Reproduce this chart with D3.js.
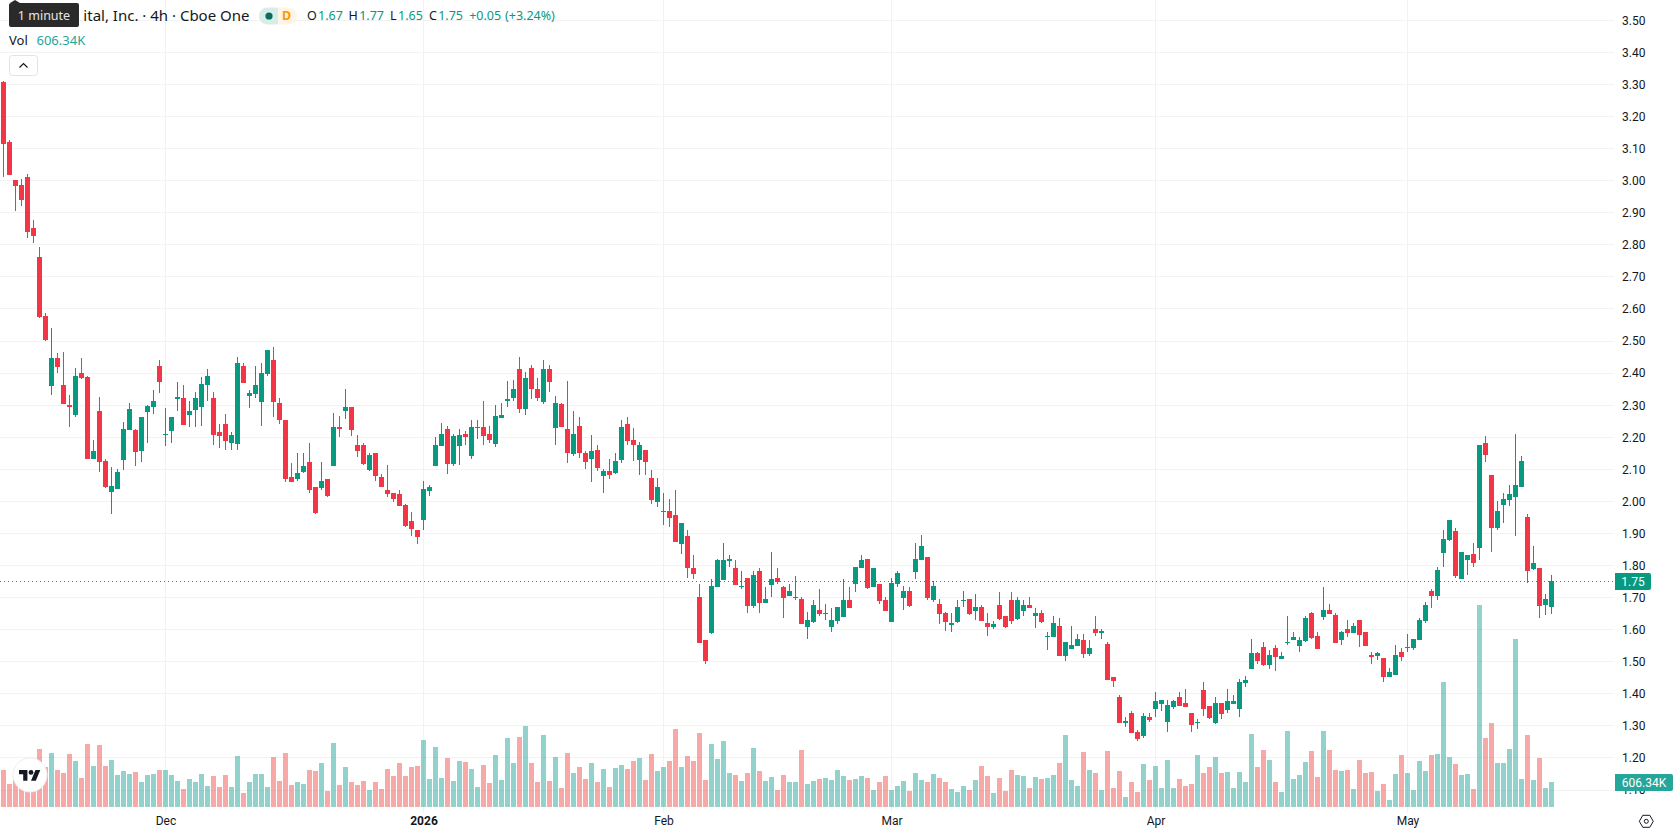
<!DOCTYPE html>
<html>
<head>
<meta charset="utf-8">
<style>
  html, body { margin: 0; padding: 0; background: #fff; }
  svg { display: block; }
  text { font-family: "Noto Sans", Roboto, sans-serif; }
</style>
<script src="https://cdn.jsdelivr.net/npm/d3@7"></script>
</head>
<body>
<svg id="chart" width="1678" height="835"></svg>
<script>
// Four-hour bars, oldest first.
const opens = [
3.308,3.121,3.002,2.986,3.011,2.852,2.762,2.578,2.359,2.447,
2.362,2.300,2.269,2.400,2.387,2.132,2.281,2.125,2.029,2.038,
2.128,2.222,2.222,2.156,2.278,2.294,2.422,2.206,2.219,2.319,
2.322,2.269,2.284,2.294,2.362,2.322,2.216,2.241,2.181,2.178,
2.422,2.328,2.334,2.309,2.397,2.440,2.306,2.252,2.077,2.071,
2.090,2.124,2.043,2.040,2.068,2.109,2.233,2.280,2.293,2.174,
2.174,2.099,2.149,2.077,2.034,2.027,2.024,1.987,1.937,1.912,
1.943,2.031,2.109,2.171,2.224,2.115,2.171,2.211,2.140,2.230,
2.233,2.211,2.180,2.261,2.314,2.321,2.414,2.289,2.417,2.349,
2.311,2.414,2.230,2.302,2.224,2.146,2.236,2.152,2.133,2.161,
2.080,2.093,2.089,2.130,2.242,2.192,2.130,2.161,2.074,1.999,
1.968,1.971,1.958,1.868,1.893,1.793,1.703,1.568,1.590,1.734,
1.756,1.815,1.793,1.734,1.762,1.675,1.784,1.684,1.740,1.762,
1.734,1.706,1.699,1.696,1.609,1.625,1.662,1.650,1.609,1.628,
1.640,1.693,1.743,1.792,1.820,1.733,1.742,1.693,1.624,1.742,
1.699,1.721,1.780,1.817,1.827,1.692,1.680,1.652,1.615,1.624,
1.689,1.696,1.658,1.671,1.621,1.608,1.677,1.643,1.692,1.633,
1.658,1.677,1.643,1.652,1.577,1.577,1.611,1.518,1.540,1.549,
1.568,1.524,1.602,1.590,1.555,1.452,1.390,1.309,1.340,1.281,
1.268,1.327,1.352,1.368,1.312,1.359,1.390,1.371,1.340,1.309,
1.412,1.362,1.309,1.371,1.349,1.368,1.352,1.433,1.477,1.527,
1.546,1.490,1.543,1.508,1.558,1.568,1.549,1.565,1.652,1.580,
1.639,1.661,1.646,1.568,1.602,1.589,1.630,1.593,1.521,1.518,
1.511,1.452,1.458,1.530,1.543,1.543,1.568,1.628,1.721,1.706,
1.840,1.880,1.908,1.759,1.818,1.836,1.855,2.183,2.083,1.918,
1.989,2.005,2.014,2.046,1.952,1.790,1.793,1.677,1.67];

const highs = [
3.311,3.127,3.002,3.005,3.021,2.877,2.793,2.587,2.540,2.462,
2.465,2.331,2.415,2.447,2.391,2.191,2.325,2.132,2.107,2.100,
2.247,2.306,2.225,2.263,2.300,2.347,2.440,2.291,2.263,2.372,
2.362,2.313,2.341,2.387,2.412,2.341,2.241,2.272,2.216,2.450,
2.431,2.347,2.422,2.431,2.472,2.481,2.322,2.252,2.118,2.152,
2.152,2.183,2.043,2.124,2.068,2.274,2.265,2.349,2.293,2.208,
2.183,2.152,2.149,2.084,2.112,2.027,2.034,1.993,1.968,1.912,
2.062,2.052,2.199,2.243,2.236,2.211,2.224,2.218,2.252,2.252,
2.314,2.236,2.299,2.308,2.374,2.377,2.449,2.402,2.424,2.383,
2.439,2.424,2.327,2.308,2.374,2.283,2.264,2.158,2.208,2.174,
2.102,2.133,2.152,2.252,2.264,2.227,2.186,2.161,2.099,2.074,
2.027,2.008,2.036,1.933,1.912,1.834,1.743,1.568,1.759,1.821,
1.871,1.834,1.818,1.784,1.762,1.784,1.793,1.734,1.843,1.793,
1.737,1.743,1.768,1.703,1.656,1.693,1.728,1.681,1.668,1.671,
1.759,1.734,1.796,1.833,1.820,1.792,1.742,1.702,1.761,1.783,
1.736,1.733,1.870,1.895,1.827,1.752,1.696,1.655,1.652,1.692,
1.721,1.696,1.711,1.677,1.652,1.627,1.717,1.643,1.717,1.702,
1.692,1.702,1.668,1.661,1.593,1.643,1.636,1.561,1.611,1.586,
1.586,1.568,1.643,1.602,1.561,1.452,1.396,1.327,1.346,1.287,
1.340,1.340,1.405,1.380,1.380,1.380,1.405,1.415,1.340,1.321,
1.437,1.362,1.390,1.371,1.415,1.396,1.446,1.455,1.571,1.530,
1.561,1.536,1.552,1.530,1.643,1.593,1.577,1.643,1.655,1.593,
1.733,1.680,1.652,1.596,1.630,1.621,1.630,1.593,1.530,1.530,
1.511,1.480,1.552,1.543,1.586,1.571,1.636,1.687,1.727,1.796,
1.911,1.943,1.918,1.843,1.833,1.871,2.177,2.202,2.083,2.002,
2.027,2.052,2.211,2.142,1.961,1.862,1.793,1.712,1.77];

const lows = [
3.012,3.018,2.905,2.921,2.821,2.805,2.571,2.500,2.331,2.400,
2.303,2.231,2.263,2.381,2.132,2.132,2.091,2.041,1.960,2.038,
2.097,2.222,2.110,2.122,2.181,2.272,2.337,2.172,2.181,2.281,
2.238,2.231,2.231,2.234,2.313,2.175,2.166,2.160,2.160,2.160,
2.369,2.291,2.322,2.234,2.391,2.263,2.241,2.059,2.059,2.062,
2.087,2.027,1.959,2.034,2.012,2.109,2.199,2.258,2.202,2.137,
2.112,2.093,2.062,2.043,2.012,1.999,1.984,1.921,1.893,1.868,
1.909,2.018,2.109,2.171,2.084,2.109,2.112,2.174,2.133,2.193,
2.174,2.183,2.168,2.261,2.293,2.314,2.274,2.268,2.318,2.314,
2.302,2.342,2.177,2.233,2.118,2.142,2.136,2.102,2.061,2.093,
2.027,2.068,2.086,2.118,2.177,2.127,2.083,2.083,1.993,1.983,
1.927,1.921,1.874,1.837,1.762,1.759,1.559,1.494,1.587,1.734,
1.753,1.796,1.740,1.728,1.653,1.668,1.653,1.684,1.703,1.743,
1.637,1.706,1.693,1.618,1.572,1.621,1.643,1.631,1.593,1.618,
1.640,1.668,1.718,1.792,1.727,1.733,1.680,1.658,1.624,1.733,
1.661,1.671,1.758,1.817,1.692,1.686,1.618,1.596,1.593,1.621,
1.671,1.646,1.630,1.627,1.580,1.602,1.630,1.605,1.618,1.630,
1.643,1.668,1.605,1.621,1.537,1.577,1.518,1.502,1.540,1.549,
1.511,1.518,1.580,1.571,1.443,1.421,1.309,1.296,1.278,1.253,
1.262,1.312,1.327,1.346,1.281,1.352,1.362,1.359,1.281,1.290,
1.331,1.321,1.306,1.321,1.340,1.368,1.327,1.421,1.477,1.493,
1.487,1.477,1.471,1.508,1.552,1.568,1.530,1.561,1.571,1.540,
1.630,1.649,1.558,1.552,1.577,1.589,1.546,1.549,1.493,1.505,
1.437,1.452,1.458,1.502,1.530,1.536,1.568,1.621,1.668,1.693,
1.796,1.877,1.762,1.759,1.771,1.796,1.818,2.124,1.843,1.911,
1.933,1.986,1.893,2.046,1.746,1.787,1.637,1.646,1.65];

const closes = [
3.114,3.018,2.983,2.940,2.840,2.827,2.575,2.503,2.447,2.419,
2.303,2.294,2.391,2.384,2.132,2.156,2.122,2.044,2.047,2.091,
2.225,2.288,2.153,2.263,2.297,2.313,2.372,2.210,2.263,2.325,
2.238,2.281,2.322,2.366,2.391,2.206,2.203,2.188,2.206,2.431,
2.369,2.337,2.362,2.400,2.472,2.309,2.253,2.071,2.059,2.087,
2.109,2.034,1.965,2.062,2.015,2.233,2.224,2.293,2.221,2.158,
2.115,2.143,2.080,2.046,2.024,2.006,1.984,1.924,1.915,1.890,
2.037,2.043,2.174,2.211,2.115,2.202,2.208,2.199,2.233,2.233,
2.205,2.190,2.265,2.268,2.318,2.349,2.289,2.383,2.349,2.321,
2.414,2.371,2.308,2.233,2.149,2.211,2.149,2.121,2.158,2.105,
2.093,2.083,2.127,2.233,2.189,2.174,2.174,2.121,2.005,2.043,
1.971,1.949,1.874,1.933,1.793,1.774,1.559,1.503,1.737,1.818,
1.818,1.821,1.740,1.737,1.675,1.771,1.684,1.696,1.759,1.749,
1.699,1.721,1.703,1.618,1.631,1.678,1.650,1.653,1.631,1.671,
1.693,1.668,1.796,1.817,1.730,1.792,1.689,1.658,1.746,1.777,
1.721,1.674,1.820,1.861,1.699,1.736,1.649,1.624,1.621,1.671,
1.692,1.649,1.671,1.627,1.608,1.618,1.633,1.608,1.627,1.692,
1.677,1.668,1.652,1.624,1.580,1.621,1.518,1.561,1.552,1.571,
1.524,1.543,1.590,1.596,1.443,1.440,1.309,1.315,1.278,1.259,
1.331,1.318,1.377,1.380,1.365,1.377,1.362,1.359,1.302,1.312,
1.352,1.324,1.371,1.337,1.377,1.377,1.437,1.443,1.527,1.502,
1.490,1.521,1.515,1.518,1.561,1.577,1.568,1.636,1.574,1.540,
1.661,1.649,1.558,1.593,1.589,1.611,1.583,1.549,1.515,1.527,
1.452,1.468,1.521,1.515,1.546,1.571,1.630,1.677,1.706,1.787,
1.883,1.943,1.768,1.843,1.833,1.808,2.174,2.145,1.918,1.971,
2.008,2.024,2.052,2.127,1.783,1.808,1.674,1.696,1.75];

// Traded volume per bar, in thousands of shares.
const volumes = [
897,558,655,849,970,1019,1407,970,1310,897,
825,1285,1116,703,1528,994,1504,994,1140,776,
873,800,849,606,776,800,897,897,776,631,
437,679,606,800,509,752,485,776,485,1237,
340,606,800,800,485,1213,631,1310,534,606,
558,897,873,1067,388,1552,534,970,606,534,
631,412,606,437,922,752,1067,752,970,994,
1625,679,1455,703,1188,631,1116,1091,922,485,
1019,582,1261,655,1673,1067,1698,1964,1067,606,
1746,631,1213,461,1310,825,970,679,1067,606,
922,485,946,1019,922,1116,1188,655,1285,873,
970,1116,1892,970,1237,1116,1795,655,1528,1164,
1601,825,776,631,825,1431,873,631,728,412,
776,606,606,1382,558,631,679,703,655,897,
752,655,679,752,703,412,606,752,412,509,
631,388,825,655,606,800,703,606,437,364,
509,412,655,994,752,340,703,388,897,776,
752,461,728,679,703,776,1067,1746,655,509,
1334,897,825,412,1358,461,873,243,606,364,
1043,655,994,461,1140,461,679,509,558,1261,
825,970,1213,825,849,461,849,606,1770,970,
1382,1140,606,364,1843,679,776,1091,1358,728,
1843,1382,897,873,897,437,1140,825,849,388,
558,170,800,1261,825,412,1116,873,1261,1285,
3031,1213,1043,776,800,437,4899,1673,2037,1067,
1067,1407,4074,679,1746,655,1188,461,606.34];

const priceTicks = ["3.50","3.40","3.30","3.20","3.10","3.00","2.90","2.80","2.70","2.60","2.50","2.40","2.30","2.20","2.10","2.00","1.90","1.80","1.70","1.60","1.50","1.40","1.30","1.20","1.10"];
const monthBars = [27,70,110,148,192,234];
const monthLabels = ["Dec","2026","Feb","Mar","Apr","May"];
const lastPrice = 1.75;
const lastVolume = 606.34;

const UP = "#089981", DOWN = "#F23645";
const VOL_UP = "#26a69a", VOL_DOWN = "#ef5350";
const GRID = "#f2f2f2", INK = "#131722";
const PANE_RIGHT = 1614, PANE_BOTTOM = 813;

const x = d3.scaleLinear().domain([0, opens.length - 1]).range([3.5, 1551.5]);
const y = d3.scaleLinear().domain([3.3, 1.1]).range([84.47, 790.01]);
const v = d3.scaleLinear().domain([0, lastVolume]).range([807, 782]);

const snap = val => Math.round(val - 0.1);
const rowOf = p => Math.floor(y(p)) + 0.5;

const bars = opens.map((o, i) => ({ i, o, h: highs[i], l: lows[i], c: closes[i], vol: volumes[i], up: closes[i] >= o }));

const svg = d3.select("#chart");

// Grid
const grid = svg.append("g").attr("shape-rendering", "crispEdges");
grid.selectAll("line.h").data(priceTicks).join("line").attr("class", "h")
  .attr("x1", 0).attr("x2", PANE_RIGHT)
  .attr("y1", d => rowOf(+d)).attr("y2", d => rowOf(+d))
  .attr("stroke", GRID);
grid.selectAll("line.v").data(monthBars).join("line").attr("class", "v")
  .attr("x1", d => Math.floor(x(d)) + 0.5).attr("x2", d => Math.floor(x(d)) + 0.5)
  .attr("y1", 0).attr("y2", PANE_BOTTOM)
  .attr("stroke", GRID);

// Volume histogram
svg.append("g").attr("shape-rendering", "crispEdges")
  .selectAll("rect").data(bars).join("rect")
  .attr("x", d => x(d.i) - 2.5)
  .attr("width", 5)
  .attr("y", d => Math.round(v(d.vol)))
  .attr("height", d => 807 - Math.round(v(d.vol)))
  .attr("fill", d => d.up ? VOL_UP : VOL_DOWN)
  .attr("fill-opacity", 0.5);

// Last price line
svg.append("line")
  .attr("x1", 0).attr("x2", PANE_RIGHT)
  .attr("y1", rowOf(lastPrice)).attr("y2", rowOf(lastPrice))
  .attr("stroke", UP).attr("stroke-dasharray", "1 3")
  .attr("shape-rendering", "crispEdges");

// Candles
const candles = svg.append("g").attr("shape-rendering", "crispEdges")
  .selectAll("g").data(bars).join("g");
candles.append("rect")
  .attr("x", d => x(d.i) - 0.5).attr("width", 1)
  .attr("y", d => snap(y(d.h)))
  .attr("height", d => Math.max(1, snap(y(d.l)) - snap(y(d.h))))
  .attr("fill", d => d.up ? UP : DOWN);
candles.append("rect")
  .attr("x", d => x(d.i) - 2.5).attr("width", 5)
  .attr("y", d => snap(y(Math.max(d.o, d.c))))
  .attr("height", d => Math.max(1, snap(y(Math.min(d.o, d.c))) - snap(y(Math.max(d.o, d.c)))))
  .attr("fill", d => d.up ? UP : DOWN);

// Price scale
const priceAxis = svg.append("g").attr("transform", `translate(${PANE_RIGHT},0)`)
  .call(d3.axisRight(y).tickValues(priceTicks.map(Number)).tickFormat(d3.format(".2f")).tickSize(0).tickPadding(8));
priceAxis.select(".domain").remove();
priceAxis.selectAll("text").attr("fill", INK).style("font-size", "12px")
  .style("font-family", "Roboto, sans-serif");

// Time scale
const timeAxis = svg.append("g").attr("transform", `translate(0,${PANE_BOTTOM})`)
  .call(d3.axisBottom(x).tickValues(monthBars).tickFormat((d, i) => monthLabels[i]).tickSize(0).tickPadding(3));
timeAxis.select(".domain").remove();
timeAxis.selectAll("text").attr("fill", INK).style("font-size", "12px")
  .style("font-family", "Roboto, sans-serif")
  .style("font-weight", (d, i) => monthLabels[i] === "2026" ? 700 : 400);

// Last value tags on the scale
function tag(cy, fill, w, h, label) {
  const top = cy - h / 2;
  svg.append("path")
    .attr("d", `M1615 ${top}H${1615 + w - 2}a2 2 0 0 1 2 2V${top + h - 2}a2 2 0 0 1 -2 2H1615Z`)
    .attr("fill", fill);
  svg.append("text").attr("x", 1615 + w / 2).attr("y", cy).attr("dy", "0.35em")
    .attr("text-anchor", "middle").attr("fill", "#fff")
    .style("font-size", "12px").style("font-family", "Roboto, sans-serif").text(label);
}
tag(581.5, UP, 36, 17, d3.format(".2f")(lastPrice));
tag(782.5, VOL_UP, 58, 17, lastVolume + "K");

// Legend
const legend = svg.append("g");
function legendText(px, py, str, fill, size) {
  legend.append("text").attr("x", px).attr("y", py).attr("dy", "0.35em")
    .attr("fill", fill).style("font-size", (size || 12.5) + "px").text(str);
}
legend.append("text").attr("x", 249.5).attr("y", 16).attr("dy", "0.35em").attr("text-anchor", "end")
  .attr("fill", INK).style("font-size", "15px").text("ital, Inc. · 4h · Cboe One");

legend.append("path").attr("d", "M278.2 7.5H267a8 8.5 0 0 0 0 17H278.2Z").attr("fill", "#d8ece8");
legend.append("path").attr("d", "M278.2 7.5H289a8 8.5 0 0 1 0 17H278.2Z").attr("fill", "#fff4e6");
legend.append("circle").attr("cx", 269).attr("cy", 16).attr("r", 3.6).attr("fill", "#0b6b5e");
legend.append("text").attr("x", 286.6).attr("y", 16).attr("dy", "0.35em").attr("text-anchor", "middle")
  .attr("fill", "#ff9800").style("font-size", "12.5px").style("font-weight", 700).text("D");

legendText(307, 16, "O", INK);
legendText(318, 16, d3.format(".2f")(opens[258]), UP);
legendText(348.5, 16, "H", INK);
legendText(359.2, 16, d3.format(".2f")(highs[258]), UP);
legendText(390, 16, "L", INK);
legendText(398, 16, d3.format(".2f")(lows[258]), UP);
legendText(429, 16, "C", INK);
legendText(438.2, 16, d3.format(".2f")(closes[258]), UP);
legendText(469.2, 16, "+0.05", UP);
legendText(505, 16, "(+3.24%)", UP);

legendText(9, 40.7, "Vol", INK, 13);
legendText(36.5, 40.7, lastVolume + "K", VOL_UP, 13);

// Collapse button
const btn = svg.append("g");
btn.append("rect").attr("x", 9.5).attr("y", 55.5).attr("width", 28).attr("height", 20).attr("rx", 3)
  .attr("fill", "#fff").attr("stroke", "#e0e3eb");
btn.append("path").attr("d", "M19.5 67.5l4-4 4 4").attr("fill", "none").attr("stroke", INK).attr("stroke-width", 1.2);

// Hover hint over the title
const hint = svg.append("g");
hint.append("rect").attr("x", 9).attr("y", 3).attr("width", 70).attr("height", 24).attr("rx", 2).attr("fill", "#2a2a2a");
hint.append("path").attr("d", "M10 3l5-3 5 3Z").attr("fill", "#2a2a2a");
hint.append("text").attr("x", 44).attr("y", 16).attr("dy", "0.35em").attr("text-anchor", "middle")
  .attr("fill", "#e6e6e6").style("font-size", "12.5px").text("1 minute");

// Watermark badge
const badge = svg.append("g");
badge.append("circle").attr("cx", 30).attr("cy", 775).attr("r", 17).attr("fill", "#fff").attr("stroke", "#eeeeee").attr("stroke-width", 1);
badge.append("g").attr("transform", "translate(19,767.6) scale(0.6)").call(g => {
  g.append("path").attr("d", "M14 22H7V11H0V4h14v18zM28 22h-8l7.5-18h8L28 22z").attr("fill", "#131722");
  g.append("circle").attr("cx", 20).attr("cy", 8).attr("r", 4).attr("fill", "#131722");
});

// Scale settings icon
const gear = svg.append("g").attr("transform", "translate(1646.3,821.3)");
gear.append("path").attr("d", "M-7 0L-3.5-6H3.5L7 0L3.5 6H-3.5Z").attr("fill", "none").attr("stroke", INK).attr("stroke-width", 1);
gear.append("circle").attr("r", 2).attr("fill", "none").attr("stroke", INK).attr("stroke-width", 1);
</script>
</body>
</html>
